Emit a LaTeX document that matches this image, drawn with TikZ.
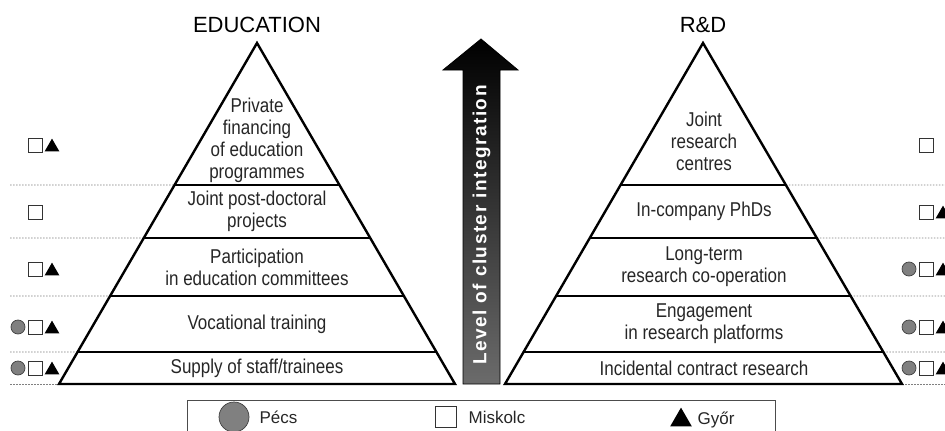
\documentclass[tikz,border=0pt]{standalone}
\usepackage{fontspec}
\setmainfont{Liberation Sans}
\newfontfamily\narrowsf[FakeStretch=0.85]{Liberation Sans}
\usetikzlibrary{calc,positioning,shapes.geometric}
\tikzset{
    pyramid/.style={draw=black, line width=2.4pt, line join=miter},
    level/.style={draw=black, line width=1.2pt},
    guide/.style={draw=black!50, line width=0.9pt, dash pattern=on 1.5pt off 1.5pt},
    title/.style={font=\fontsize{22}{26}\selectfont},
    lvl/.style={font=\narrowsf\fontsize{20}{22}\selectfont, align=center, text=black!85, inner sep=0pt},
    lift/.style={draw=black, line width=0.8pt, top color=black, bottom color=black!58},
    lifttext/.style={rotate=90, text=white, inner sep=0pt,
      font=\bfseries\fontsize{19}{22}\selectfont\addfontfeature{LetterSpace=8}},
    pecs/.style={circle, draw=black!75, fill=black!50, line width=0.7pt, inner sep=0pt, minimum size=#1},
    pecs/.default=14pt,
    misk/.style={rectangle, draw=black!80, fill=white, line width=0.8pt, inner sep=0pt, minimum size=#1},
    misk/.default=14pt,
    gyor/.style={regular polygon, regular polygon sides=3, fill=black, inner sep=0pt,
      minimum size=#1, yshift=-#1/8},
    gyor/.default=17pt,
    legend/.style={font=\fontsize{17}{20}\selectfont, text=black!85, inner sep=0pt}
}
\begin{document}
\begin{tikzpicture}[x=1pt,y=-1pt]
    \useasboundingbox (0,0) rectangle (945,431);
    \clip (0,0) rectangle (945,431);

    \coordinate (ea) at (257,43); \coordinate (el) at (59,384); \coordinate (er) at (455,384);
    \coordinate (ra) at (703,43); \coordinate (rl) at (505,384); \coordinate (rr) at (902,384);

    \foreach \y in {185,238,296,352} {
      \draw[guide] (10,\y) -- ($(ea)!{(\y-43)/341}!(el)$);
      \draw[guide] ($(ra)!{(\y-43)/341}!(rr)$) -- (945,\y);
      \draw[level] ($(ea)!{(\y-43)/341}!(el)$) -- ($(ea)!{(\y-43)/341}!(er)$);
      \draw[level] ($(ra)!{(\y-43)/341}!(rl)$) -- ($(ra)!{(\y-43)/341}!(rr)$);
    }
    \draw[guide] (10,384) -- (el);
    \draw[guide] (rr) -- (945,384);
    \draw[pyramid] (ea) -- (el) -- (er) -- cycle;
    \draw[pyramid] (ra) -- (rl) -- (rr) -- cycle;

    \node[title] (edu) at (257,25) {EDUCATION};
    \node[title] (rd) at (703,25) {R\&D};

    \node[lvl] (e1) at (257,140) {Private\\financing\\of education\\programmes};
    \node[lvl] (e2) at (257,211) {Joint post-doctoral\\projects};
    \node[lvl] (e3) at (257,267) {Participation\\in education committees};
    \node[lvl] (e4) at (257,324) {Vocational training};
    \node[lvl] (e5) at (257,368) {Supply of staff/trainees};

    \node[lvl] (r1) at (704,141) {Joint\\research\\centres};
    \node[lvl] (r2) at (704,211) {In-company PhDs};
    \node[lvl] (r3) at (704,267) {Long-term\\research co-operation};
    \node[lvl] (r4) at (704,324) {Engagement\\in research platforms};
    \node[lvl] (r5) at (704,368) {Incidental contract research};

    \draw[lift] (463,384) -- (463,70) -- (443,70) -- (481,39) -- (518,70) -- (500,70) -- (500,384) -- cycle;
    \node[lifttext] (integ) at (481.5,225) {Level of cluster integration};

    \foreach \x/\y/\k [count=\i] in {35/145/misk,52/145/gyor,35/212/misk,35/269/misk,52/269/gyor,
        18/327/pecs,35/327/misk,52/327/gyor,18/368/pecs,35/368/misk,52/368/gyor}
      \node[\k] (me\i) at (\x,\y) {};
    \foreach \x/\y/\k [count=\i] in {926/145/misk,926/212/misk,943/212/gyor,
        909/269/pecs,926/269/misk,943/269/gyor,909/327/pecs,926/327/misk,943/327/gyor,
        909/368/pecs,926/368/misk,943/368/gyor}
      \node[\k] (mr\i) at (\x,\y) {};

    \draw[black!70, line width=1pt] (187,400) rectangle (775,445);
    \node[pecs=30pt] (lp) at (234,417) {};
    \node[legend, right=10pt of lp] (lpt) {Pécs};
    \node[misk=21pt] (lm) at (445.5,417) {};
    \node[legend, right=12pt of lm] (lmt) {Miskolc};
    \node[gyor=25pt] (lg) at (681,417) {};
    \node[legend, right=9pt of lg] (lgt) {Győr};
\end{tikzpicture}
\end{document}
